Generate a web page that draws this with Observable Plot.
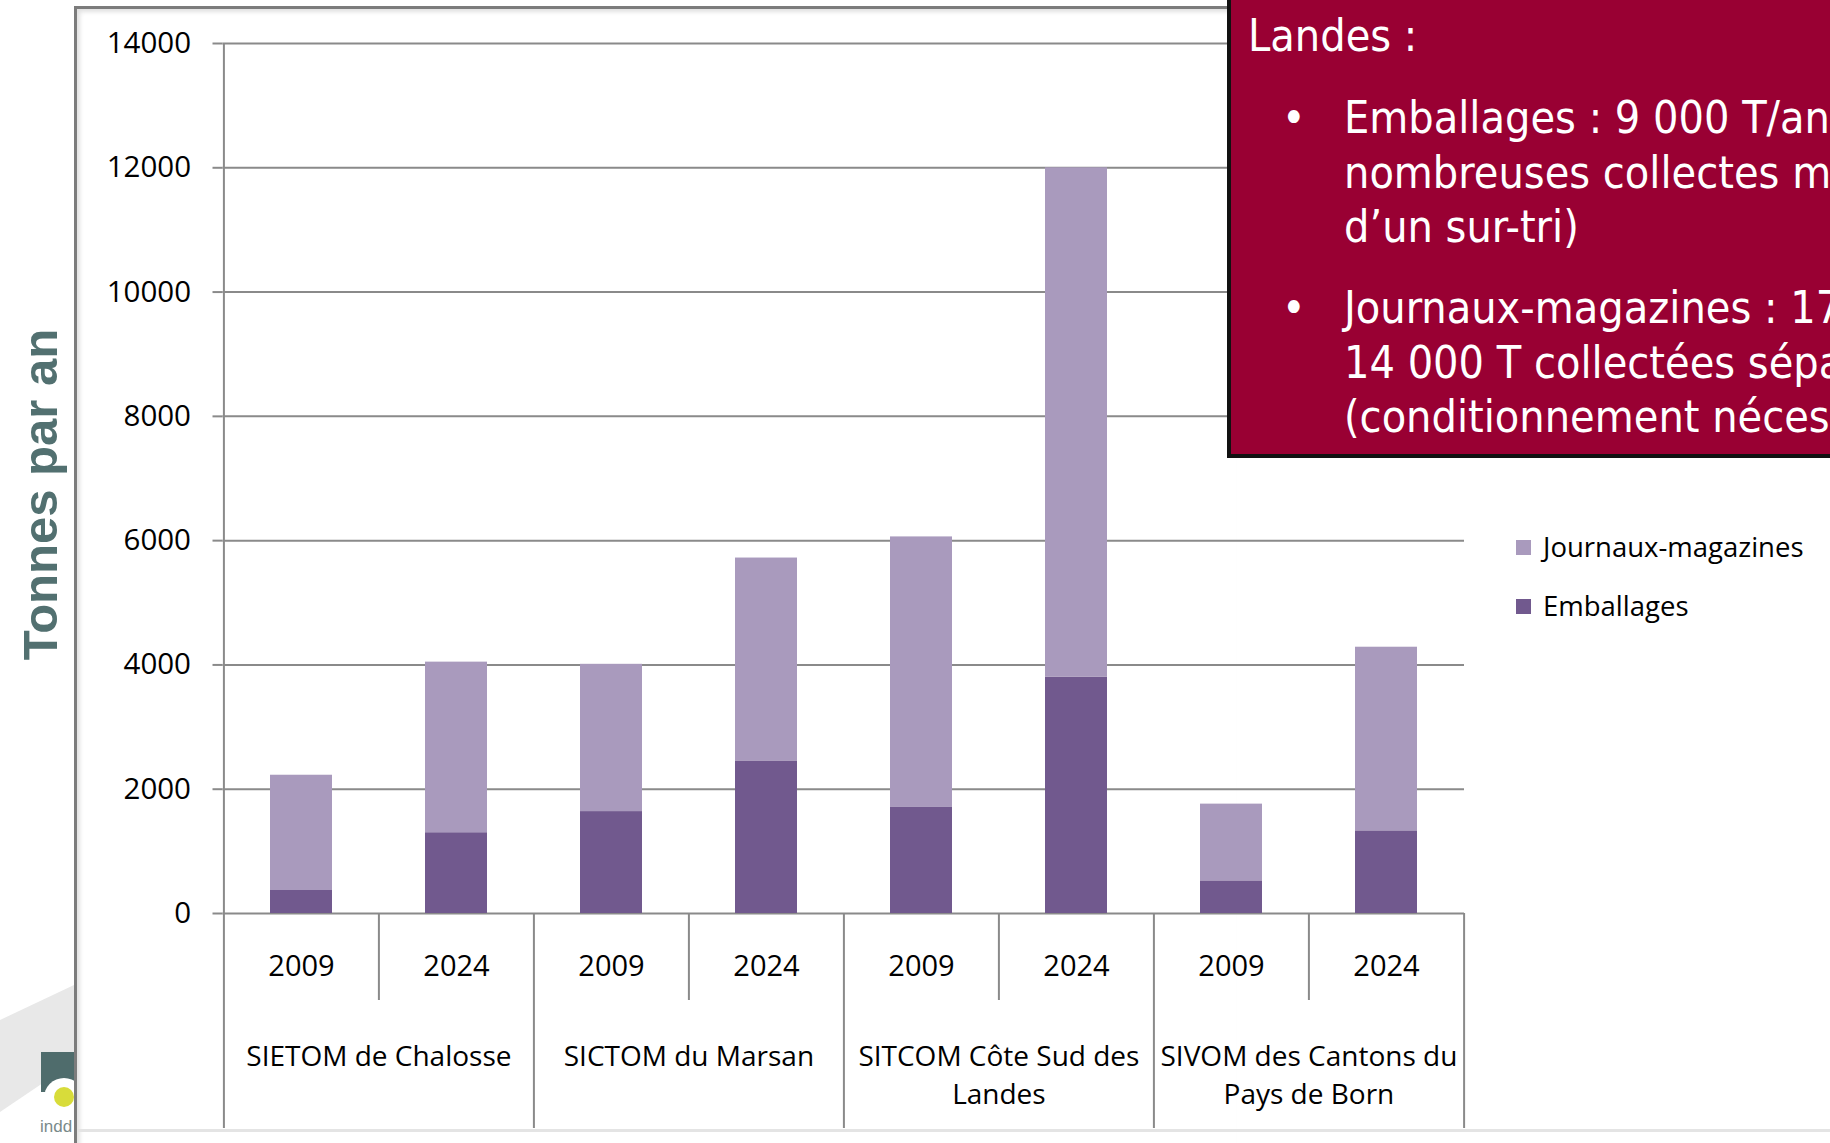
<!DOCTYPE html>
<html>
<head>
<meta charset="utf-8">
<script src="https://cdn.jsdelivr.net/npm/d3@7"></script>
<script src="https://cdn.jsdelivr.net/npm/@observablehq/plot@0.6"></script>
<style>
  html, body { margin: 0; padding: 0; background: #fff; }
  #stage { position: relative; width: 1830px; height: 1143px; overflow: hidden; background: #fff; }
  #deco { position: absolute; left: 0; top: 0; }
  #frame { position: absolute; left: 74px; top: 6px; width: 1160px; height: 1200px;
           border-left: 3px solid #7c7c7c; border-top: 3px solid #7c7c7c;
           box-shadow: inset 3px 3px 4px rgba(0,0,0,0.12); }
  #chart { position: absolute; left: 0; top: 0; }
  #legend { position: absolute; left: 1516px; top: 0; font-family: "Open Sans", sans-serif; font-size: 27.5px; color: #000; }
  .li { position: absolute; left: 0; white-space: nowrap; height: 36px; line-height: 36px; }
  .sw { display: inline-block; width: 15px; height: 15px; vertical-align: middle; margin-right: 12px; position: relative; top: -2px; }
  #box { position: absolute; left: 1227px; top: -4px; width: 700px; height: 462px; background: #990033;
         border-left: 4px solid #111; border-bottom: 4px solid #111; box-sizing: border-box;
         color: #fff; font-family: "DejaVu Sans Condensed", "DejaVu Sans", sans-serif; font-stretch: condensed; font-size: 44.5px; }
  #box div { position: absolute; white-space: nowrap; line-height: 54.5px; }
  #bottomline { position: absolute; left: 77px; top: 1129px; width: 1760px; height: 3px; background: #e4e4e4; }
</style>
</head>
<body>
<div id="stage">
  <svg id="deco" width="80" height="1143">
    <polygon points="0,1020 74,985 74,1062 0,1112" fill="#e8e8e8"/>
    <rect x="41" y="1052" width="33" height="40" fill="#4f6c6c"/>
    <circle cx="64" cy="1098" r="20" fill="#fff"/>
    <circle cx="64" cy="1097" r="10" fill="#d8dc3a"/>
    <text x="40" y="1132" font-family="Liberation Sans" font-size="17" fill="#7a8a8a">indd</text>
  </svg>
  <div id="frame"></div>
  <div id="bottomline"></div>
  <div id="chart"></div>
  <div id="legend"></div>
  <div id="box"></div>
</div>
<script>
// ---- data ----
const groups = ["SIETOM de Chalosse", "SICTOM du Marsan", "SITCOM Côte Sud des Landes", "SIVOM des Cantons du Pays de Born"];
const groupLabels = ["SIETOM de Chalosse", "SICTOM du Marsan", "SITCOM Côte Sud des\nLandes", "SIVOM des Cantons du\nPays de Born"];
const years = ["2009", "2024"];
const emballages = [370, 1300, 1640, 2455, 1715, 3805, 525, 1330];
const journaux = [1855, 2745, 2370, 3265, 4345, 8195, 1235, 2955];
const series = ["Emballages", "Journaux-magazines"];
const seriesColors = ["#71598e", "#a99abd"];
const legendOrder = ["Journaux-magazines", "Emballages"];
const yTicks = [0, 2000, 4000, 6000, 8000, 10000, 12000, 14000];
const yTitle = "Tonnes par an";
const boxTitle = "Landes :";
const boxBullets = [
  ["Emballages : 9 000 T/an", "nombreuses collectes mo", "d\u2019un sur-tri)"],
  ["Journaux-magazines : 17", "14 000 T collectées sépa", "(conditionnement nécess"]
];

// ---- build table ----
const slots = [];
groups.forEach((g, gi) => years.forEach((yr, yi) => slots.push({group: g, label: groupLabels[gi], year: yr, key: g + "|" + yr})));
const rows = [];
slots.forEach((s, i) => {
  rows.push({...s, type: series[0], value: emballages[i]});
  rows.push({...s, type: series[1], value: journaux[i]});
});
const keys = slots.map(d => d.key);

const W = 1830, H = 1143, ML = 222.5, MR = 366, MT = 43, MB = 230;
const step = (W - ML - MR) / keys.length;
const grid = "#8a8a8a";

const yearSeps = slots.filter(d => d.year === years[1]).map(d => d.key);
const groupSepsLeft = slots.filter(d => d.year === years[0]).map(d => d.key);
const lastKey = keys[keys.length - 1];
const groupHeads = slots.filter(d => d.year === years[1]);

const chart = Plot.plot({
  width: W, height: H,
  marginLeft: ML, marginRight: MR, marginTop: MT, marginBottom: MB,
  style: {fontFamily: "'Open Sans', sans-serif", fontSize: "28px", color: "#000", background: "transparent", overflow: "visible"},
  x: {domain: keys, paddingInner: 0.6, paddingOuter: 0.3, axis: null},
  y: {domain: [0, 14000], axis: null},
  color: {domain: series, range: seriesColors},
  marks: [
    Plot.gridY(yTicks, {stroke: grid, strokeOpacity: 1, strokeWidth: 2}),
    Plot.axisY(yTicks, {tickSize: 10, tickPadding: 22, tickFormat: d3.format("d"), fontSize: 29.5, stroke: grid, strokeWidth: 2, fill: "#000", label: null}),
    Plot.barY(rows, {x: "key", y: "value", fill: "type", order: series}),
    Plot.ruleX(yearSeps, {x: d => d, y1: 0, y2: -1400, dx: -step / 2, stroke: grid, strokeWidth: 2}),
    Plot.ruleX(groupSepsLeft, {x: d => d, y1: -3460, y2: 0, dx: -step / 2, stroke: grid, strokeWidth: 2}),
    Plot.ruleX([keys[0]], {x: d => d, y1: 0, y2: 14000, dx: -step / 2, stroke: grid, strokeWidth: 2}),
    Plot.ruleX([lastKey], {x: d => d, y1: -3460, y2: 0, dx: step / 2, stroke: grid, strokeWidth: 2}),
    Plot.text(slots, {x: "key", frameAnchor: "bottom", dy: 62, text: "year", fontSize: 29, fill: "#000"}),
    Plot.text(groupHeads, {x: "key", dx: -step / 2, frameAnchor: "bottom", dy: 125, text: "label", lineAnchor: "top", lineHeight: 1.36, fontSize: 28, fill: "#000"}),
    Plot.text([yTitle], {frameAnchor: "left", textAnchor: "middle", rotate: -90, dx: -181.5, dy: 16, text: d => d, fontSize: 49, fontWeight: "bold", fill: "#527070", fontFamily: "'Liberation Sans', Arial, sans-serif"})
  ]
});
document.getElementById("chart").appendChild(chart);

// ---- legend ----
const legend = document.getElementById("legend");
const legendCenters = [547, 606];
legendOrder.forEach((name, i) => {
  const el = document.createElement("div");
  el.className = "li";
  el.style.top = (legendCenters[i] - 18) + "px";
  const sw = document.createElement("span");
  sw.className = "sw";
  sw.style.background = seriesColors[series.indexOf(name)];
  el.appendChild(sw);
  el.appendChild(document.createTextNode(name));
  legend.appendChild(el);
});

// ---- callout box ----
const box = document.getElementById("box");
function addLine(text, left, centerY) {
  const d = document.createElement("div");
  d.textContent = text;
  d.style.left = (left - 1231) + "px";
  d.style.top = (centerY + 4 - 28) + "px";
  box.appendChild(d);
}
addLine(boxTitle, 1248, 37);
const blockStarts = [119, 309];
boxBullets.forEach((lines, b) => {
  addLine("\u2022", 1282, blockStarts[b]);
  lines.forEach((t, j) => addLine(t, 1344, blockStarts[b] + j * 54.5));
});
</script>
</body>
</html>
